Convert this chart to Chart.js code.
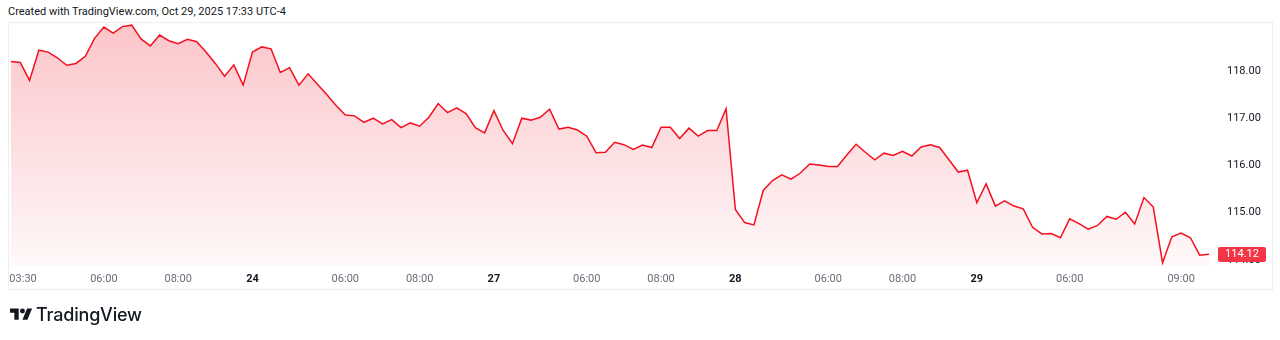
<!DOCTYPE html>
<html>
<head>
<meta charset="utf-8">
<script src="https://cdn.jsdelivr.net/npm/chart.js@4.4.1/dist/chart.umd.min.js"></script>
<style>
  html, body { margin: 0; padding: 0; background: #ffffff; }
  #wrap { position: relative; width: 1280px; height: 340px; overflow: hidden; background: #fff; }
  #c { position: absolute; left: 0; top: 0; }
  #hdr { position: absolute; left: 8px; top: 5px; font: 11px Roboto, "Noto Sans", sans-serif; color: #131722; line-height: 14px; white-space: nowrap; }
  #frame { position: absolute; left: 8px; top: 22px; width: 1263px; height: 266px; border: 1px solid #eceef2; box-sizing: content-box; pointer-events: none; }
  #logo { position: absolute; left: 10px; top: 306px; }
  #brand { position: absolute; left: 36px; top: 303px; font: 500 18px Inter, Roboto, sans-serif; color: #131722; line-height: 24px; letter-spacing: -0.2px; }
</style>
</head>
<body>
<div id="wrap">
  <div id="hdr">Created with TradingView.com, Oct 29, 2025 17:33 UTC-4</div>
  <div id="frame"></div>
  <canvas id="c" width="1280" height="340" style="width:1280px;height:340px"></canvas>
  <svg id="logo" width="22.4" height="17.4" viewBox="0 0 36 28"><path fill="#131722" d="M14 22H7V11H0V4h14v18zM28 22h-8l7.5-18h8L28 22z"/><circle fill="#131722" cx="20" cy="8" r="4"/></svg>
  <div id="brand">TradingView</div>
</div>
<script>
// 15-minute closes, Oct 23, 24, 27, 28, 29 (26 bars per session)
const sessions = ['23', '24', '27', '28', '29'];
const prices = [
  118.20, 118.18, 117.80, 118.44, 118.40, 118.28, 118.12, 118.16, 118.31, 118.69,
  118.93, 118.80, 118.94, 118.97, 118.68, 118.53, 118.76, 118.64, 118.58, 118.67,
  118.62, 118.40, 118.16, 117.89, 118.13, 117.70,
  118.40, 118.51, 118.47, 117.97, 118.07, 117.70, 117.94, 117.72, 117.50, 117.27,
  117.07, 117.05, 116.91, 117.00, 116.88, 116.97, 116.80, 116.90, 116.83, 117.02,
  117.31, 117.12, 117.22, 117.10, 116.80, 116.69,
  117.16, 116.74, 116.46, 117.00, 116.96, 117.02, 117.19, 116.77, 116.81, 116.75,
  116.62, 116.27, 116.28, 116.49, 116.44, 116.34, 116.43, 116.38, 116.81, 116.81,
  116.57, 116.79, 116.62, 116.74, 116.74, 117.20,
  115.07, 114.79, 114.74, 115.47, 115.68, 115.80, 115.71, 115.84, 116.03, 116.01,
  115.98, 115.98, 116.22, 116.45, 116.28, 116.12, 116.26, 116.21, 116.30, 116.20,
  116.39, 116.44, 116.38, 116.12, 115.86, 115.90,
  115.21, 115.61, 115.14, 115.25, 115.14, 115.08, 114.69, 114.55, 114.56, 114.47,
  114.87, 114.77, 114.65, 114.73, 114.92, 114.86, 115.01, 114.76, 115.32, 115.12,
  113.94, 114.49, 114.57, 114.47, 114.10, 114.12
];
// time-axis ticks (bar index) and their labels; day labels are bold
const tickIndex  = [1.3, 10, 18, 26, 36, 44, 52, 62, 70, 78, 88, 96, 104, 114, 126];
const tickLabels = ['03:30', '06:00', '08:00', '24', '06:00', '08:00', '27', '06:00', '08:00', '28', '06:00', '08:00', '29', '06:00', '09:00'];
const priceTicks = [114, 115, 116, 117, 118];

const lineColor = '#f5101f';
const lastPrice = prices[prices.length - 1];

const priceLabel = {
  id: 'priceLabel',
  afterDraw(chart) {
    const y = chart.scales.y.getPixelForValue(lastPrice);
    const ctx = chart.ctx;
    ctx.save();
    ctx.fillStyle = '#f23645';
    const x0 = chart.chartArea.right + 4, w = 48, h = 15;
    ctx.beginPath();
    if (ctx.roundRect) ctx.roundRect(x0, Math.round(y - h / 2), w, h, 2); else ctx.rect(x0, Math.round(y - h / 2), w, h);
    ctx.fill();
    ctx.fillStyle = '#ffffff';
    ctx.font = '11px Roboto, sans-serif';
    ctx.textAlign = 'center';
    ctx.textBaseline = 'middle';
    ctx.fillText(lastPrice.toFixed(2), x0 + w / 2, Math.round(y) + 0.5);
    ctx.restore();
  }
};

new Chart(document.getElementById('c'), {
  type: 'line',
  data: {
    datasets: [{
      data: prices.map((v, i) => ({ x: i, y: v })),
      borderColor: lineColor,
      borderWidth: 1.5,
      pointRadius: 0,
      tension: 0,
      fill: 'start',
      backgroundColor: (c) => {
        const { ctx, chartArea } = c.chart;
        if (!chartArea) return 'rgba(242,54,69,0.15)';
        const g = ctx.createLinearGradient(0, chartArea.top, 0, chartArea.bottom);
        g.addColorStop(0, 'rgba(242,54,69,0.29)');
        g.addColorStop(1, 'rgba(242,54,69,0.03)');
        return g;
      }
    }]
  },
  options: {
    responsive: false,
    animation: false,
    events: [],
    layout: { padding: { left: 9, top: 23, right: 8, bottom: 51 } },
    plugins: { legend: { display: false }, tooltip: { enabled: false } },
    scales: {
      x: {
        type: 'linear',
        min: -0.215,
        max: 129.54,
        grid: { display: false, drawTicks: false },
        border: { display: false },
        afterBuildTicks: (s) => { s.ticks = tickIndex.map(v => ({ value: v })); },
        afterFit: (s) => { s.height = 23; },
        ticks: {
          autoSkip: false,
          maxRotation: 0,
          padding: 7,
          callback: (v, i) => tickLabels[i],
          color: (c) => /^\d+$/.test(tickLabels[c.index]) ? '#131722' : '#6a6d78',
          font: (c) => ({ family: 'Roboto, sans-serif', size: 11, weight: /^\d+$/.test(tickLabels[c.index]) ? 'bold' : 'normal' })
        }
      },
      y: {
        position: 'right',
        min: 113.871,
        max: 119.016,
        grid: { display: false, drawTicks: false },
        border: { display: false },
        afterBuildTicks: (s) => { s.ticks = priceTicks.map(v => ({ value: v })); },
        afterFit: (s) => { s.width = 58; },
        ticks: {
          padding: 13,
          color: '#131722',
          font: { family: 'Roboto, sans-serif', size: 11 },
          callback: (v) => Number(v).toFixed(2)
        }
      }
    }
  },
  plugins: [priceLabel]
});
</script>
</body>
</html>
